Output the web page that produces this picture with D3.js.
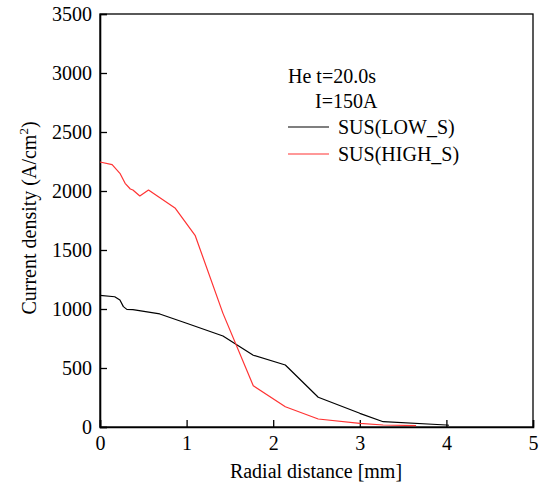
<!DOCTYPE html>
<html>
<head>
<meta charset="utf-8">
<script src="https://cdn.jsdelivr.net/npm/d3@7"></script>
<style>
  body { margin: 0; background: #fff; }
  text { font-family: "Liberation Serif", "DejaVu Serif", serif; fill: #000; }
</style>
</head>
<body>
<script>
// radial distance [mm] and current density [A/cm2]
var lowX  = [0, 0.17, 0.23, 0.27, 0.31, 0.38, 0.69, 1.0, 1.42, 1.77, 2.14, 2.52, 3.0, 3.27, 4.0, 4.03];
var lowY  = [1116, 1104, 1076, 1020, 997, 994, 958, 879, 771, 608, 525, 252, 116, 45, 17, 15];
var highX = [0, 0.14, 0.23, 0.29, 0.35, 0.38, 0.46, 0.56, 0.87, 1.10, 1.42, 1.77, 2.14, 2.52, 3.0, 3.27, 3.65];
var highY = [2246, 2223, 2150, 2065, 2017, 2008, 1958, 2008, 1853, 1621, 963, 350, 172, 68, 31, 17, 12];
var xTicks = [0, 1, 2, 3, 4, 5];
var yTicks = [0, 500, 1000, 1500, 2000, 2500, 3000, 3500];
var legendLabels = ["SUS(LOW_S)", "SUS(HIGH_S)"];
var colors = ["#000000", "#ff3333"];

var plotL = 100, plotR = 533, plotT = 14, plotB = 427;
var fs = 20;

var svg = d3.select("body").append("svg").attr("width", 540).attr("height", 487);

var x = d3.scaleLinear().domain([0, 5]).range([plotL, plotR]);
var y = d3.scaleLinear().domain([0, 3500]).range([plotB, plotT]);

// frame
svg.append("rect")
      .attr("x", plotL).attr("y", plotT)
      .attr("width", plotR - plotL).attr("height", plotB - plotT)
      .attr("fill", "none").attr("stroke", "#000").attr("stroke-width", 1.3);

// axes with inward ticks
var xAxis = svg.append("g").attr("transform", "translate(0," + plotB + ")")
      .call(d3.axisBottom(x).tickValues(xTicks).tickSize(-7).tickPadding(9).tickFormat(d3.format("d")));
var yAxis = svg.append("g").attr("transform", "translate(" + plotL + ",0)")
      .call(d3.axisLeft(y).tickValues(yTicks).tickSize(-7).tickPadding(8).tickFormat(d3.format("d")));

[xAxis, yAxis].forEach(function(g){
      g.select(".domain").attr("stroke-width", 1.6);
      g.selectAll(".tick line").attr("stroke-width", 1.3);
      g.selectAll(".tick text").attr("font-size", fs).style("font-family", "Liberation Serif");
});

// curves
var line = d3.line().x(function(d){ return x(d[0]); }).y(function(d){ return y(d[1]); });
var series = [d3.zip(lowX, lowY), d3.zip(highX, highY)];

svg.selectAll("path.curve")
      .data(series)
      .enter().append("path")
      .attr("class", "curve")
      .attr("d", line)
      .attr("fill", "none")
      .attr("stroke", function(d, i){ return colors[i]; })
      .attr("stroke-width", 1.2)
      .attr("stroke-linejoin", "round");

// legend
svg.append("text").attr("x", 288).attr("y", 83).attr("font-size", fs).text("He t=20.0s");
svg.append("text").attr("x", 315).attr("y", 108).attr("font-size", fs).text("I=150A");

var leg = svg.selectAll("g.leg")
      .data(legendLabels)
      .enter().append("g")
      .attr("class", "leg")
      .attr("transform", function(d, i){ return "translate(0," + (127 + i * 27) + ")"; });
leg.append("line")
      .attr("x1", 288).attr("x2", 329)
      .attr("stroke", function(d, i){ return colors[i]; })
      .attr("stroke-width", 1.2);
leg.append("text")
      .attr("x", 338).attr("y", 7)
      .attr("font-size", fs)
      .text(function(d){ return d; });

// axis titles
svg.append("text")
      .attr("x", 316).attr("y", 478)
      .attr("text-anchor", "middle").attr("font-size", fs)
      .text("Radial distance [mm]");

var yt = svg.append("text")
      .attr("transform", "translate(36,218) rotate(-90)")
      .attr("text-anchor", "middle").attr("font-size", fs);
yt.append("tspan").text("Current density (A/cm");
yt.append("tspan").attr("font-size", 13).attr("dy", -8).text("2");
yt.append("tspan").attr("dy", 8).text(")");
</script>
</body>
</html>
